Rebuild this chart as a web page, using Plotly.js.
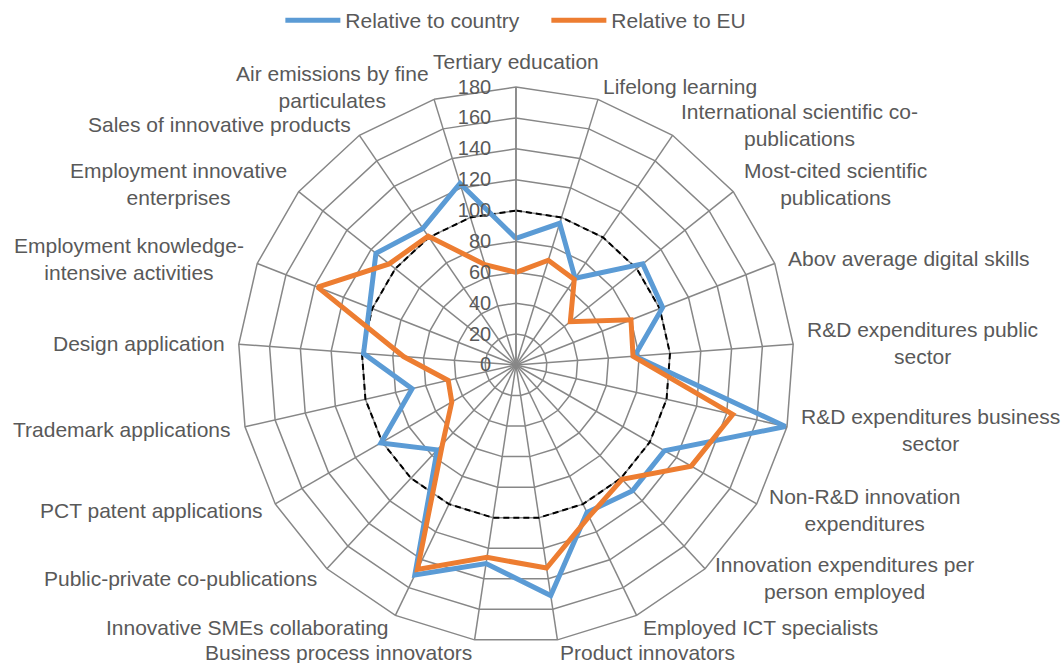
<!DOCTYPE html>
<html>
<head>
<meta charset="utf-8">
<script src="https://cdn.plot.ly/plotly-3.0.1.min.js"></script>
<style>html,body{margin:0;padding:0;background:#fff;}#chart{width:1064px;height:663px;}</style>
</head>
<body>
<div id="chart"></div>
<script>
const categories = [
  "Tertiary education",
  "Lifelong learning",
  "International scientific co-publications",
  "Most-cited scientific publications",
  "Abov average digital skills",
  "R&D expenditures public sector",
  "R&D expenditures business sector",
  "Non-R&D innovation expenditures",
  "Innovation expenditures per person employed",
  "Employed ICT specialists",
  "Product innovators",
  "Business process innovators",
  "Innovative SMEs collaborating",
  "Public-private co-publications",
  "PCT patent applications",
  "Trademark applications",
  "Design application",
  "Employment knowledge-intensive activities",
  "Employment innovative enterprises",
  "Sales of innovative products",
  "Air emissions by fine particulates"
];
const categoryLabels = [
  "Tertiary education",
  "Lifelong learning",
  "International scientific co-<br>publications",
  "Most-cited scientific<br>publications",
  "Abov average digital skills",
  "R&D expenditures public<br>sector",
  "R&D expenditures business<br>sector",
  "Non-R&D innovation<br>expenditures",
  "Innovation expenditures per<br>person employed",
  "Employed ICT specialists",
  "Product innovators",
  "Business process innovators",
  "Innovative SMEs collaborating",
  "Public-private co-publications",
  "PCT patent applications",
  "Trademark applications",
  "Design application",
  "Employment knowledge-<br>intensive activities",
  "Employment innovative<br>enterprises",
  "Sales of innovative products",
  "Air emissions by fine<br>particulates"
];
const relativeToCountry = [82, 96, 68, 105, 102, 77, 179, 111, 111, 106, 151, 130, 151, 75, 101, 69, 99, 102, 116, 107, 123];
const relativeToEU      = [60, 71, 67, 45, 80, 76, 144, 131, 101, 109, 133, 126, 147, 70, 48, 45, 73, 138, 105, 101, 68];
const referenceLevel    = [100, 100, 100, 100, 100, 100, 100, 100, 100, 100, 100, 100, 100, 100, 100, 100, 100, 100, 100, 100, 100];
const radialTicks = [0, 20, 40, 60, 80, 100, 120, 140, 160, 180];

function closeLoop(a){ return a.concat([a[0]]); }

const W = 1064, H = 663;
const polarDomain = {x:[0.2237, 0.7462], y:[0.0302, 0.8688]};
const rMax = 180;

const theta = closeLoop(categories);
const traces = [
  {type:'scatterpolar', mode:'lines', name:'Reference', r: closeLoop(referenceLevel), theta: theta,
   line:{color:'#000000', width:2, dash:'6px,4px'}, showlegend:false, hoverinfo:'skip'},
  {type:'scatterpolar', mode:'lines', name:'Relative to country', r: closeLoop(relativeToCountry), theta: theta,
   line:{color:'#5B9BD5', width:5}},
  {type:'scatterpolar', mode:'lines', name:'Relative to EU', r: closeLoop(relativeToEU), theta: theta,
   line:{color:'#ED7D31', width:5}}
];

// Category labels placed Excel-style just outside the outer ring of the polar axis
const cxPx = (polarDomain.x[0] + polarDomain.x[1]) / 2 * W;
const cyPx = (1 - (polarDomain.y[0] + polarDomain.y[1]) / 2) * H;
const radiusPx = Math.min((polarDomain.x[1] - polarDomain.x[0]) * W, (polarDomain.y[1] - polarDomain.y[0]) * H) / 2;
const labelGap = 13;
const annotations = categoryLabels.map(function(txt, k){
  const a = k * 2 * Math.PI / categoryLabels.length;
  const s = Math.sin(a), c = Math.cos(a);
  const px = cxPx + (radiusPx + labelGap) * s;
  const py = cyPx - (radiusPx + labelGap) * c;
  let xa = 'center', ya = 'middle';
  if (s > 0.01) xa = 'left'; else if (s < -0.01) xa = 'right';
  else ya = (c > 0) ? 'bottom' : 'top';
  return {text: txt, xref:'paper', yref:'paper', x: px / W, y: 1 - py / H,
          xanchor: xa, yanchor: ya, align:'center', showarrow:false, borderpad:0,
          font:{size:21, color:'#595959'}};
});

const layout = {
  width:W, height:H,
  margin:{l:0, r:0, t:0, b:0},
  paper_bgcolor:'#ffffff',
  font:{family:'"Liberation Sans", Arial, sans-serif', size:21, color:'#595959'},
  showlegend:true,
  legend:{orientation:'h', x:0.2635, xanchor:'left', y:1.0, yanchor:'top',
          font:{size:21, color:'#595959'}, traceorder:'normal',
          entrywidth:196, entrywidthmode:'pixels', itemwidth:55},
  annotations: annotations,
  polar:{
    domain: polarDomain,
    gridshape:'linear',
    bgcolor:'rgba(0,0,0,0)',
    radialaxis:{
      range:[0, rMax], tickvals: radialTicks, ticktext: radialTicks.map(String),
      angle:90, tickangle:90, side:'counterclockwise',
      showline:true, linecolor:'#878787', linewidth:1.5,
      gridcolor:'#878787', gridwidth:1.5,
      ticks:'outside', ticklen:17, tickcolor:'rgba(0,0,0,0)',
      tickfont:{size:20, color:'#595959'}
    },
    angularaxis:{
      direction:'clockwise', rotation:90,
      showline:true, linecolor:'#878787', linewidth:1.5,
      gridcolor:'#878787', gridwidth:1.5, ticks:'',
      showticklabels:false
    }
  }
};

Plotly.newPlot('chart', traces, layout, {displayModeBar:false, staticPlot:true});
</script>
</body>
</html>
